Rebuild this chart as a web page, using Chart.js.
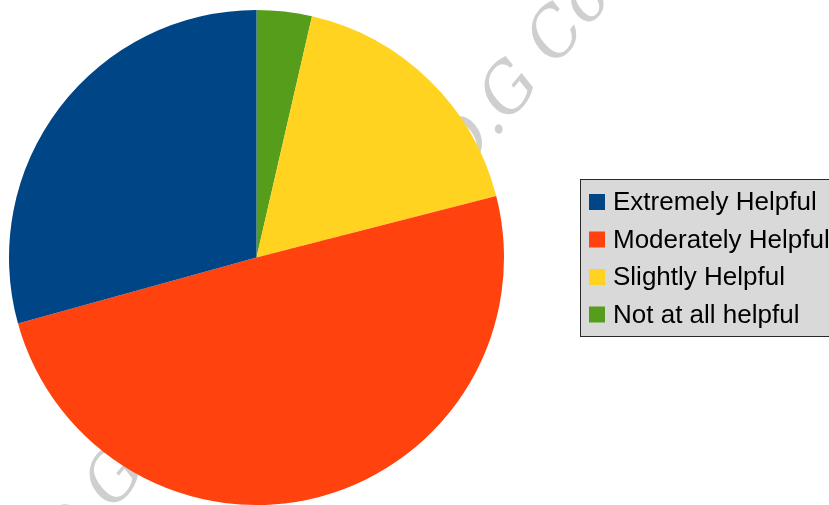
<!DOCTYPE html>
<html>
<head>
<meta charset="utf-8">
<script src="https://cdn.jsdelivr.net/npm/chart.js@4/dist/chart.umd.min.js"></script>
<style>
  html, body { margin: 0; padding: 0; background: #fff; }
  #wrap { width: 829px; height: 505px; position: relative; }
</style>
</head>
<body>
<div id="wrap"><canvas id="chart"></canvas></div>
<script>
// Data (legend order)
const categories = ['Extremely Helpful', 'Moderately Helpful', 'Slightly Helpful', 'Not at all helpful'];
const values = [29.3, 49.7, 17.4, 3.6];
const colors = ['#004586', '#ff420e', '#ffd320', '#579d1c'];

// LibreOffice draws slices counter-clockwise from 12 o'clock,
// Chart.js goes clockwise, so feed the pie reversed arrays
const pieLabels = categories.slice().reverse();
const pieValues = values.slice().reverse();
const pieColors = colors.slice().reverse();

// faint watermark behind the pie
const watermark = {
  id: 'watermark',
  beforeDatasetsDraw(chart) {
    const ctx = chart.ctx;
    ctx.save();
    ctx.fillStyle = '#cfcfcf';
    ctx.font = 'italic 66px "DejaVu Serif", "Liberation Serif", serif';
    ctx.textBaseline = 'alphabetic';
    [[462, 178], [67, 566]].forEach(([x, y]) => {
      ctx.save();
      ctx.translate(x, y);
      ctx.rotate(-50 * Math.PI / 180);
      ctx.fillText('D.G Computers', 0, 0);
      ctx.restore();
    });
    ctx.restore();
  }
};

// boxed legend like the original
const boxLegend = {
  id: 'boxLegend',
  afterDraw(chart) {
    const ctx = chart.ctx;
    const x = 580.5, y = 179.5, w = 260, h = 157;
    ctx.save();
    ctx.fillStyle = '#d9d9d9';
    ctx.strokeStyle = '#2a2a2a';
    ctx.lineWidth = 1;
    ctx.fillRect(x, y, w, h);
    ctx.strokeRect(x, y, w, h);
    ctx.font = '26px "Liberation Sans", Arial, sans-serif';
    ctx.textBaseline = 'middle';
    categories.forEach((label, i) => {
      const cy = 202 + i * 37.5;
      ctx.fillStyle = colors[i];
      ctx.fillRect(589, cy - 8, 16, 16);
      ctx.fillStyle = '#000';
      ctx.fillText(label, 613, cy + 1);
    });
    ctx.restore();
  }
};

new Chart(document.getElementById('chart'), {
  type: 'pie',
  data: {
    labels: pieLabels,
    datasets: [{
      data: pieValues,
      backgroundColor: pieColors,
      borderWidth: 0
    }]
  },
  options: {
    responsive: true,
    maintainAspectRatio: false,
    animation: false,
    layout: {
      padding: { top: 10, bottom: 0, left: 9, right: 325 }
    },
    plugins: {
      legend: { display: false },
      tooltip: { enabled: false }
    }
  },
  plugins: [watermark, boxLegend]
});
</script>
</body>
</html>
